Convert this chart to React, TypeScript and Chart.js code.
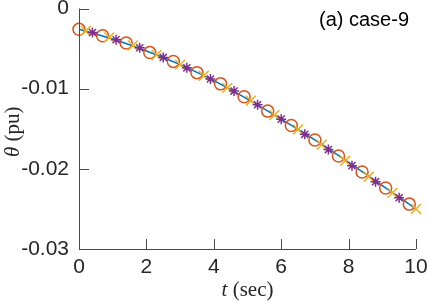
import React, { useEffect, useRef } from "react";
import { Chart, registerables } from "chart.js";

Chart.register(...registerables);

// Continuous solution (blue line)
const lineT = [0, 1, 2, 3, 4, 5, 6, 7, 8, 9, 10];
const lineV = [-0.0026, -0.0038, -0.0053, -0.007, -0.009, -0.0113, -0.0138, -0.0164, -0.0192, -0.0221, -0.025];

// Orange circles
const circleT = [0, 0.7, 1.4, 2.1, 2.8, 3.5, 4.2, 4.9, 5.6, 6.3, 7.0, 7.7, 8.4, 9.1, 9.8];
const circleV = [-0.0026, -0.0034, -0.0043, -0.0055, -0.0066, -0.008, -0.0094, -0.011, -0.0128, -0.0146, -0.0164, -0.0184, -0.0204, -0.0224, -0.0244];

// Yellow crosses
const crossT = [0.2, 0.9, 1.6, 2.3, 3.0, 3.7, 4.4, 5.1, 5.8, 6.5, 7.2, 7.9, 8.6, 9.3, 10.0];
const crossV = [-0.0028, -0.0036, -0.0046, -0.0058, -0.007, -0.0084, -0.0099, -0.0115, -0.0133, -0.0151, -0.017, -0.019, -0.021, -0.023, -0.025];

// Purple asterisks
const starT = [0.4, 1.1, 1.8, 2.5, 3.2, 3.9, 4.6, 5.3, 6.0, 6.7, 7.4, 8.1, 8.8, 9.5];
const starV = [-0.003, -0.0039, -0.0049, -0.0061, -0.0074, -0.0088, -0.0103, -0.012, -0.0138, -0.0157, -0.0176, -0.0196, -0.0216, -0.0236];

const xTicks = [0, 2, 4, 6, 8, 10];
const yTicks = [-0.03, -0.02, -0.01, 0];
const panelLabel = "(a) case-9";

const zip = (t: number[], v: number[]) => t.map((x, i) => ({ x, y: v[i] }));

const AXIS_COLOR = "#4a4a4a";
const TEXT_COLOR = "#262626";

const axesPlugin = {
  id: "matlabAxes",
  afterDraw(chart: any) {
    const ctx = chart.ctx as CanvasRenderingContext2D;
    const xs = chart.scales.x;
    const ys = chart.scales.y;
    const { left, right, top, bottom } = chart.chartArea;
    ctx.save();
    ctx.strokeStyle = AXIS_COLOR;
    ctx.lineWidth = 1;
    ctx.beginPath();
    ctx.moveTo(left + 0.5, top);
    ctx.lineTo(left + 0.5, bottom + 0.5);
    ctx.lineTo(right, bottom + 0.5);
    ctx.stroke();
    const tl = 10;
    ctx.beginPath();
    xTicks.forEach((t) => {
      const px = Math.round(xs.getPixelForValue(t)) + 0.5;
      ctx.moveTo(px, bottom);
      ctx.lineTo(px, bottom - tl);
    });
    yTicks.forEach((v) => {
      const py = Math.round(ys.getPixelForValue(v)) + 0.5;
      ctx.moveTo(left, py);
      ctx.lineTo(left + tl, py);
    });
    ctx.stroke();

    // axis titles (mixed italic / upright serif)
    const serif = "21px 'Liberation Serif', serif";
    const serifIt = "italic 21px 'Liberation Serif', serif";
    ctx.fillStyle = TEXT_COLOR;
    ctx.textBaseline = "middle";
    ctx.textAlign = "left";
    const drawMixed = (a: string, b: string, cx: number, cy: number, rot: number) => {
      ctx.save();
      ctx.translate(cx, cy);
      ctx.rotate(rot);
      ctx.font = serifIt;
      const wa = ctx.measureText(a).width;
      ctx.font = serif;
      const wb = ctx.measureText(b).width;
      const x0 = -(wa + wb) / 2;
      ctx.font = serifIt;
      ctx.fillText(a, x0, 0);
      ctx.font = serif;
      ctx.fillText(b, x0 + wa, 0);
      ctx.restore();
    };
    drawMixed("t", " (sec)", (left + right) / 2, 290, 0);
    drawMixed("θ", " (pu)", 13, (top + bottom) / 2 + 3, -Math.PI / 2);

    // panel label
    ctx.font = "20px 'Liberation Sans', Arial, sans-serif";
    ctx.textBaseline = "alphabetic";
    ctx.fillStyle = "#000";
    ctx.fillText(panelLabel, 319, 26);
    ctx.restore();
  },
};

export default function App() {
  const ref = useRef<HTMLCanvasElement | null>(null);
  useEffect(() => {
    if (!ref.current) return;
    const tickFont = { family: "'Liberation Sans', Arial, sans-serif", size: 21 };
    const chart = new Chart(ref.current, {
      type: "line",
      data: {
        datasets: [
          {
            data: zip(lineT, lineV),
            borderColor: "#0072BD",
            borderWidth: 1.5,
            pointRadius: 0,
            cubicInterpolationMode: "monotone",
            fill: false,
            order: 4,
            clip: false,
          } as any,
          {
            data: zip(circleT, circleV),
            showLine: false,
            pointStyle: "circle",
            pointRadius: 6,
            pointBorderWidth: 1.5,
            pointBorderColor: "#D95319",
            pointBackgroundColor: "rgba(0,0,0,0)",
            borderColor: "#D95319",
            order: 3,
            clip: false,
          },
          {
            data: zip(crossT, crossV),
            showLine: false,
            pointStyle: "crossRot",
            pointRadius: 7,
            pointBorderWidth: 1.5,
            pointBorderColor: "#EDB120",
            borderColor: "#EDB120",
            order: 2,
            clip: false,
          },
          {
            data: zip(starT, starV),
            showLine: false,
            pointStyle: "star",
            pointRadius: 5,
            pointBorderWidth: 1.5,
            pointBorderColor: "#7E2F8E",
            borderColor: "#7E2F8E",
            order: 1,
            clip: false,
          },
        ],
      },
      options: {
        responsive: false,
        animation: false,
        events: [],
        layout: { padding: { left: 0, top: 6, right: 11, bottom: 0 } },
        plugins: { legend: { display: false }, tooltip: { enabled: false }, title: { display: false } },
        scales: {
          x: {
            type: "linear",
            min: 0,
            max: 10,
            grid: { display: false, drawTicks: false },
            border: { display: false },
            ticks: { stepSize: 2, font: tickFont, color: TEXT_COLOR, padding: 6, maxRotation: 0, autoSkip: false },
            afterFit: (s: any) => {
              s.height = 53;
              s.paddingLeft = 0;
              s.paddingRight = 0;
              s.paddingTop = 0;
              s.paddingBottom = 0;
            },
          },
          y: {
            type: "linear",
            min: -0.03,
            max: 0,
            grid: { display: false, drawTicks: false },
            border: { display: false },
            ticks: {
              stepSize: 0.01,
              font: tickFont,
              color: TEXT_COLOR,
              padding: 10,
              callback: (v: any) => (Math.abs(v) < 1e-9 ? "0" : Number(v).toFixed(2)),
            },
            afterFit: (s: any) => {
              s.width = 79;
              s.paddingLeft = 0;
              s.paddingRight = 0;
              s.paddingTop = 0;
              s.paddingBottom = 0;
            },
          },
        },
      },
      plugins: [axesPlugin],
    });
    return () => chart.destroy();
  }, []);
  return (
    <div style={{ position: "absolute", left: 0, top: 0, width: 427, height: 302, background: "#fff" }}>
      <canvas ref={ref} width={427} height={302} style={{ display: "block" }} />
    </div>
  );
}
